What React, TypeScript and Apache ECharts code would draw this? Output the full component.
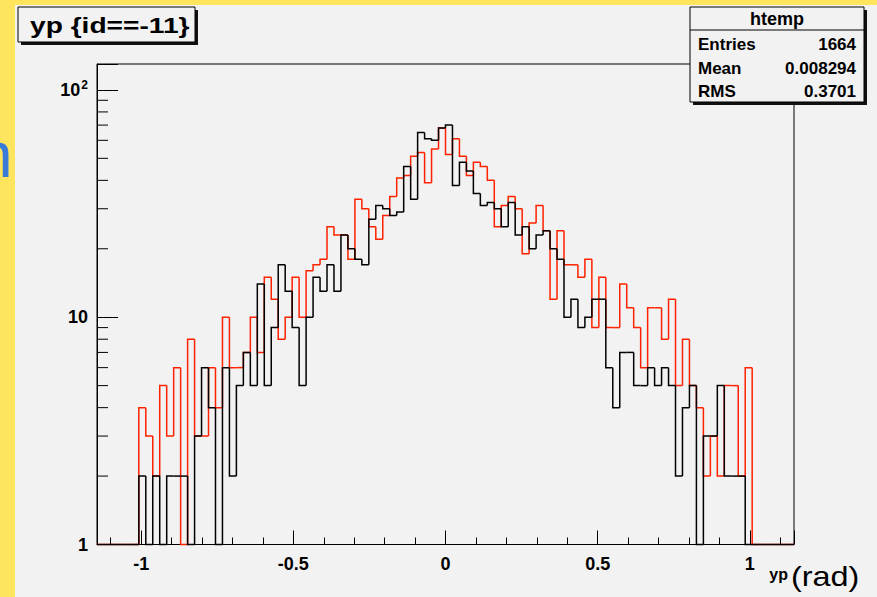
import React, { useEffect, useRef } from "react";
import * as echarts from "echarts";

// ---- histogram definition ----
const X_MIN = -1.145;
const X_MAX = 1.145;
const N_BINS = 100;
const Y_MIN = 1;
const Y_MAX = 130;

// counts per bin (100 bins from X_MIN to X_MAX)
const redCounts = [
  0, 0, 0, 0, 0, 0, 4, 3, 2, 5,
  3, 6, 0, 8, 3, 3, 6, 4, 10, 6,
  6, 7, 10, 7, 15, 12, 8, 10, 15, 10,
  16, 17, 18, 25, 23, 23, 18, 33, 30, 25,
  22, 28, 34, 41, 42, 51, 53, 39, 55, 68,
  52, 61, 51, 42, 48, 46, 40, 25, 31, 34,
  30, 19, 26, 31, 24, 12, 24, 17, 17, 15,
  18, 9, 15, 9, 9, 14, 11, 9, 6, 11,
  11, 8, 12, 5, 8, 5, 4, 2, 3, 2,
  5, 5, 2, 6, 0, 0, 0, 0, 0, 0,
];

const blackCounts = [
  0, 0, 0, 0, 0, 0, 2, 0, 2, 0,
  2, 2, 2, 0, 3, 6, 4, 0, 6, 2,
  5, 7, 5, 14, 5, 9, 17, 13, 9, 5,
  10, 15, 13, 17, 13, 23, 20, 18, 17, 27,
  31, 30, 28, 29, 46, 33, 65, 61, 60, 68,
  70, 38, 48, 44, 35, 31, 32, 30, 25, 32,
  23, 25, 20, 23, 24, 20, 18, 10, 12, 9,
  10, 12, 12, 6, 4, 7, 7, 5, 5, 6,
  5, 6, 5, 2, 4, 5, 0, 3, 3, 5,
  2, 2, 2, 0, 0, 0, 0, 0, 0, 0,
];

const yMinorTickValues = [2, 3, 4, 5, 6, 7, 8, 9, 20, 30, 40, 50, 60, 70, 80, 90];

const titleText = "yp {id==-11}";
const statsTitle = "htemp";
const statsLabels = ["Entries", "Mean", "RMS"];
const statsValues = ["1664", "0.008294", "0.3701"];
const xAxisTitle = "yp";
const unitText = "(rad)";
const slideFragment = "n";

const FONT = "'Liberation Sans', Arial, Helvetica, sans-serif";
const RED = "#ff2200";
const BLACK = "#000000";

const BIN_W = (X_MAX - X_MIN) / N_BINS;

function histData(counts: number[]) {
  return counts.map((c, i) => [X_MIN + i * BIN_W, c, i > 0 ? counts[i - 1] : 0]);
}

function histRenderer(color: string) {
  return (_params: any, api: any) => {
    const x0 = api.value(0);
    const c = api.value(1);
    const prev = api.value(2);
    const fl = (v: number) => (v > Y_MIN ? v : Y_MIN);
    const pPrev = api.coord([x0, fl(prev)]);
    const pTop = api.coord([x0, fl(c)]);
    const pEnd = api.coord([x0 + BIN_W, fl(c)]);
    return {
      type: "polyline",
      shape: { points: [pPrev, pTop, pEnd] },
      style: { stroke: color, fill: "none", lineWidth: 1.5 },
    };
  };
}

export default function App() {
  const ref = useRef<HTMLDivElement>(null);

  useEffect(() => {
    if (!ref.current) return;
    const chart = echarts.init(ref.current, null, { renderer: "svg" });

    const statsRowY = [44, 68, 91];

    const option: any = {
      animation: false,
      backgroundColor: "#ffe45e",
      grid: {
        left: 97,
        top: 64,
        width: 697,
        height: 480.5,
        show: true,
        borderColor: "#000",
        borderWidth: 1,
        backgroundColor: "transparent",
      },
      xAxis: {
        type: "value",
        min: X_MIN,
        max: X_MAX,
        name: xAxisTitle,
        nameLocation: "end",
        nameGap: -6,
        nameTextStyle: {
          fontFamily: FONT,
          fontWeight: "bold",
          fontSize: 16,
          color: "#000",
          align: "right",
          verticalAlign: "top",
          padding: [22, 0, 0, 0],
        },
        axisLine: { show: true, onZero: false, lineStyle: { color: "#000", width: 1 } },
        axisTick: { show: true, inside: true, length: 14, lineStyle: { color: "#000", width: 1 } },
        minorTick: { show: true, splitNumber: 5, length: 7, lineStyle: { color: "#000", width: 1 } },
        splitLine: { show: false },
        minorSplitLine: { show: false },
        axisLabel: {
          margin: 10,
          color: "#000",
          fontFamily: FONT,
          fontWeight: "bold",
          fontSize: 18,
          formatter: (v: number) => {
            if (Math.abs(v * 2 - Math.round(v * 2)) > 1e-6) return "";
            const r = Math.round(v * 2) / 2;
            return String(r);
          },
        },
      },
      yAxis: {
        type: "log",
        logBase: 10,
        min: Y_MIN,
        max: Y_MAX,
        axisLine: { show: true, onZero: false, lineStyle: { color: "#000", width: 1 } },
        axisTick: { show: true, inside: true, length: 21, lineStyle: { color: "#000", width: 1 } },
        splitLine: { show: false },
        axisLabel: {
          margin: 9,
          color: "#000",
          fontFamily: FONT,
          fontWeight: "bold",
          fontSize: 18,
          formatter: (v: number) => {
            const r = Math.round(v);
            if (r === 1) return "1";
            if (r === 10) return "10";
            if (r === 100) return "{b|10}{s|2}";
            return "";
          },
          rich: {
            b: { fontFamily: FONT, fontWeight: "bold", fontSize: 18, color: "#000" },
            s: {
              fontFamily: FONT,
              fontWeight: "bold",
              fontSize: 12,
              color: "#000",
              verticalAlign: "top",
              padding: [0, 0, 10, 1],
            },
          },
        },
      },
      series: [
        {
          type: "custom",
          name: "red",
          renderItem: histRenderer(RED),
          data: histData(redCounts),
          encode: { x: 0, y: 1 },
          z: 3,
        },
        {
          type: "custom",
          name: "black",
          renderItem: histRenderer(BLACK),
          data: histData(blackCounts),
          encode: { x: 0, y: 1 },
          z: 4,
        },
        {
          type: "custom",
          name: "yMinorTicks",
          renderItem: (_p: any, api: any) => {
            const p = api.coord([X_MIN, api.value(1)]);
            return {
              type: "line",
              shape: { x1: p[0], y1: p[1], x2: p[0] + 11, y2: p[1] },
              style: { stroke: "#000", lineWidth: 1 },
            };
          },
          data: yMinorTickValues.map((v) => [X_MIN, v]),
          encode: { x: 0, y: 1 },
          z: 5,
        },
      ],
      graphic: [
        {
          type: "rect",
          z: -100,
          shape: { x: 15, y: 5, width: 862, height: 592 },
          style: { fill: "#f2f2f2" },
          silent: true,
        },
        {
          type: "text",
          z: -50,
          x: -23,
          y: 155,
          style: {
            text: slideFragment,
            fontFamily: FONT,
            fontSize: 64,
            fill: "#3a7ad8",
            verticalAlign: "middle",
          },
        },
        // title box
        {
          type: "rect",
          z: 100,
          shape: { x: 21, y: 10, width: 177, height: 35 },
          style: { fill: "#111" },
        },
        {
          type: "rect",
          z: 101,
          shape: { x: 18, y: 7, width: 177, height: 35 },
          style: { fill: "#f2f2f2", stroke: "#000", lineWidth: 1 },
        },
        {
          type: "text",
          z: 102,
          x: 30,
          y: 25,
          scaleX: 1.28,
          style: {
            text: titleText,
            fontFamily: FONT,
            fontWeight: "bold",
            fontSize: 22,
            fill: "#000",
            verticalAlign: "middle",
            align: "left",
          },
        },
        // stats box
        {
          type: "rect",
          z: 100,
          shape: { x: 693, y: 10, width: 174, height: 95 },
          style: { fill: "#111" },
        },
        {
          type: "rect",
          z: 101,
          shape: { x: 690, y: 7, width: 174, height: 95 },
          style: { fill: "#f2f2f2", stroke: "#000", lineWidth: 1 },
        },
        {
          type: "line",
          z: 102,
          shape: { x1: 690, y1: 30, x2: 864, y2: 30 },
          style: { stroke: "#000", lineWidth: 1 },
        },
        {
          type: "text",
          z: 102,
          x: 777,
          y: 19,
          style: {
            text: statsTitle,
            fontFamily: FONT,
            fontWeight: "bold",
            fontSize: 18,
            fill: "#000",
            align: "center",
            verticalAlign: "middle",
          },
        },
        ...statsLabels.map((t, i) => ({
          type: "text",
          z: 102,
          x: 698,
          y: statsRowY[i],
          style: {
            text: t,
            fontFamily: FONT,
            fontWeight: "bold",
            fontSize: 17,
            fill: "#000",
            align: "left",
            verticalAlign: "middle",
          },
        })),
        ...statsValues.map((t, i) => ({
          type: "text",
          z: 102,
          x: 856,
          y: statsRowY[i],
          style: {
            text: t,
            fontFamily: FONT,
            fontWeight: "bold",
            fontSize: 17,
            fill: "#000",
            align: "right",
            verticalAlign: "middle",
          },
        })),
        {
          type: "text",
          z: 102,
          x: 791,
          y: 576,
          scaleX: 1.2,
          style: {
            text: unitText,
            fontFamily: FONT,
            fontSize: 27,
            fill: "#000",
            align: "left",
            verticalAlign: "middle",
          },
        },
      ],
    };

    chart.setOption(option);
    return () => {
      chart.dispose();
    };
  }, []);

  return (
    <div
      ref={ref}
      style={{ position: "fixed", left: 0, top: 0, width: 877, height: 597 }}
    />
  );
}
